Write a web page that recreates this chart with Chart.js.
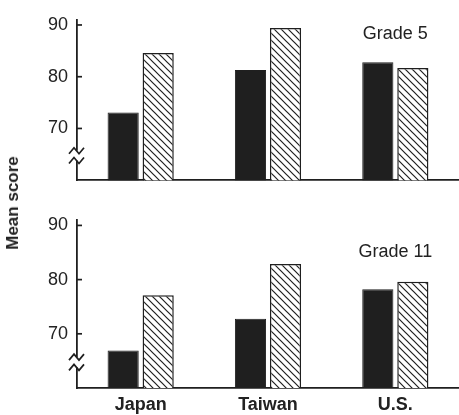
<!DOCTYPE html>
<html>
<head>
<meta charset="utf-8">
<script src="https://cdn.jsdelivr.net/npm/chart.js@4.4.1/dist/chart.umd.min.js"></script>
<style>
  body { margin: 0; background: #fff; }
  #wrap { position: relative; width: 459px; height: 415px; }
  .panel { position: absolute; left: 0; width: 459px; }
  #ylabel {
    position: absolute; left: 13px; top: 203px;
    transform: translate(-50%, -50%) rotate(-90deg);
    font: bold 17px "Liberation Sans", Arial, sans-serif; color: #222;
    white-space: nowrap;
  }
</style>
</head>
<body>
<div id="wrap">
  <div class="panel" style="top:0;height:200px"><canvas id="grade5"></canvas></div>
  <div class="panel" style="top:200px;height:215px"><canvas id="grade11"></canvas></div>
  <div id="ylabel">Mean score</div>
</div>
<script>
// valeurs
var categories = ['Japan', 'Taiwan', 'U.S.'];
var grade5Solid = [73.1, 81.3, 82.8];
var grade5Hatched = [84.6, 89.4, 81.7];
var grade11Solid = [66.9, 72.8, 78.2];
var grade11Hatched = [77.1, 82.9, 79.6];
var yTicks = [70, 80, 90];

var ink = '#1f1f1f';
var fontFamily = '"Liberation Sans", Arial, sans-serif';

// motif hachuré (\\\)
function makeHatch() {
  var s = 7;
  var c = document.createElement('canvas');
  c.width = s; c.height = s;
  var g = c.getContext('2d');
  g.fillStyle = '#fff';
  g.fillRect(0, 0, s, s);
  g.strokeStyle = ink;
  g.lineWidth = 1.2;
  g.beginPath();
  g.moveTo(0, 0); g.lineTo(s, s);
  g.moveTo(-1, s - 1); g.lineTo(1, s + 1);
  g.moveTo(s - 1, -1); g.lineTo(s + 1, 1);
  g.stroke();
  return g.createPattern(c, 'repeat');
}
var hatch = makeHatch();

// petits traits vers l'intérieur, coupure de l'axe, texte du panneau
var decor = {
  id: 'decor',
  afterDraw: function (chart, args, opts) {
    var ctx = chart.ctx;
    var y = chart.scales.y, x = chart.scales.x;
    var left = chart.chartArea.left;
    ctx.save();
    ctx.strokeStyle = ink;
    ctx.lineWidth = 1.7;
    yTicks.forEach(function (v) {
      var py = y.getPixelForValue(v);
      ctx.beginPath();
      ctx.moveTo(left, py);
      ctx.lineTo(left + 5, py);
      ctx.stroke();
    });
    // coupure
    var b1 = y.getPixelForValue(65.7), b2 = y.getPixelForValue(63.8);
    ctx.fillStyle = '#fff';
    ctx.fillRect(left - 2, b1, 4, b2 - b1);
    [b1, b2].forEach(function (py) {
      ctx.beginPath();
      ctx.moveTo(left - 8, py + 3);
      ctx.lineTo(left - 3, py - 3);
      ctx.lineTo(left + 2, py + 3);
      ctx.lineTo(left + 7, py - 3);
      ctx.stroke();
    });
    ctx.fillStyle = '#222';
    ctx.font = '18px ' + fontFamily;
    ctx.textAlign = 'center';
    ctx.textBaseline = 'middle';
    ctx.fillText(opts.text, x.getPixelForValue(2), y.getPixelForValue(opts.at));
    ctx.restore();
  }
};

function makeChart(id, solid, hatched, text, at, topPad, showLabels, xHeight) {
  return new Chart(document.getElementById(id), {
    type: 'bar',
    data: {
      labels: categories,
      datasets: [{
        label: 'solid',
        data: solid,
        backgroundColor: ink,
        borderColor: ink,
        borderWidth: 1
      }, {
        label: 'hatched',
        data: hatched,
        backgroundColor: hatch,
        borderColor: ink,
        borderWidth: 1.5
      }]
    },
    options: {
      responsive: true,
      maintainAspectRatio: false,
      animation: false,
      categoryPercentage: 0.55,
      barPercentage: 0.89,
      layout: { padding: { top: topPad, left: 0, right: 0, bottom: 0 } },
      plugins: {
        legend: { display: false },
        tooltip: { enabled: false },
        decor: { text: text, at: at }
      },
      scales: {
        x: {
          grid: { display: false, drawTicks: false },
          border: { display: true, color: ink, width: 1.8 },
          ticks: {
            display: showLabels,
            padding: 6,
            color: '#222',
            font: { family: fontFamily, size: 18, weight: 'bold' }
          },
          afterFit: function (s) { s.height = xHeight; }
        },
        y: {
          min: 60,
          max: 91,
          grid: { display: false, drawTicks: false },
          border: { display: true, color: ink, width: 1.8 },
          afterBuildTicks: function (s) {
            s.ticks = yTicks.map(function (v) { return { value: v }; });
          },
          ticks: {
            padding: 9,
            color: '#222',
            font: { family: fontFamily, size: 18 }
          },
          afterFit: function (s) { s.width = 77; }
        }
      }
    },
    plugins: [decor]
  });
}

makeChart('grade5', grade5Solid, grade5Hatched, 'Grade 5', 88.3, 15, false, 16);
makeChart('grade11', grade11Solid, grade11Hatched, 'Grade 11', 85.0, 20, true, 27);
</script>
</body>
</html>
